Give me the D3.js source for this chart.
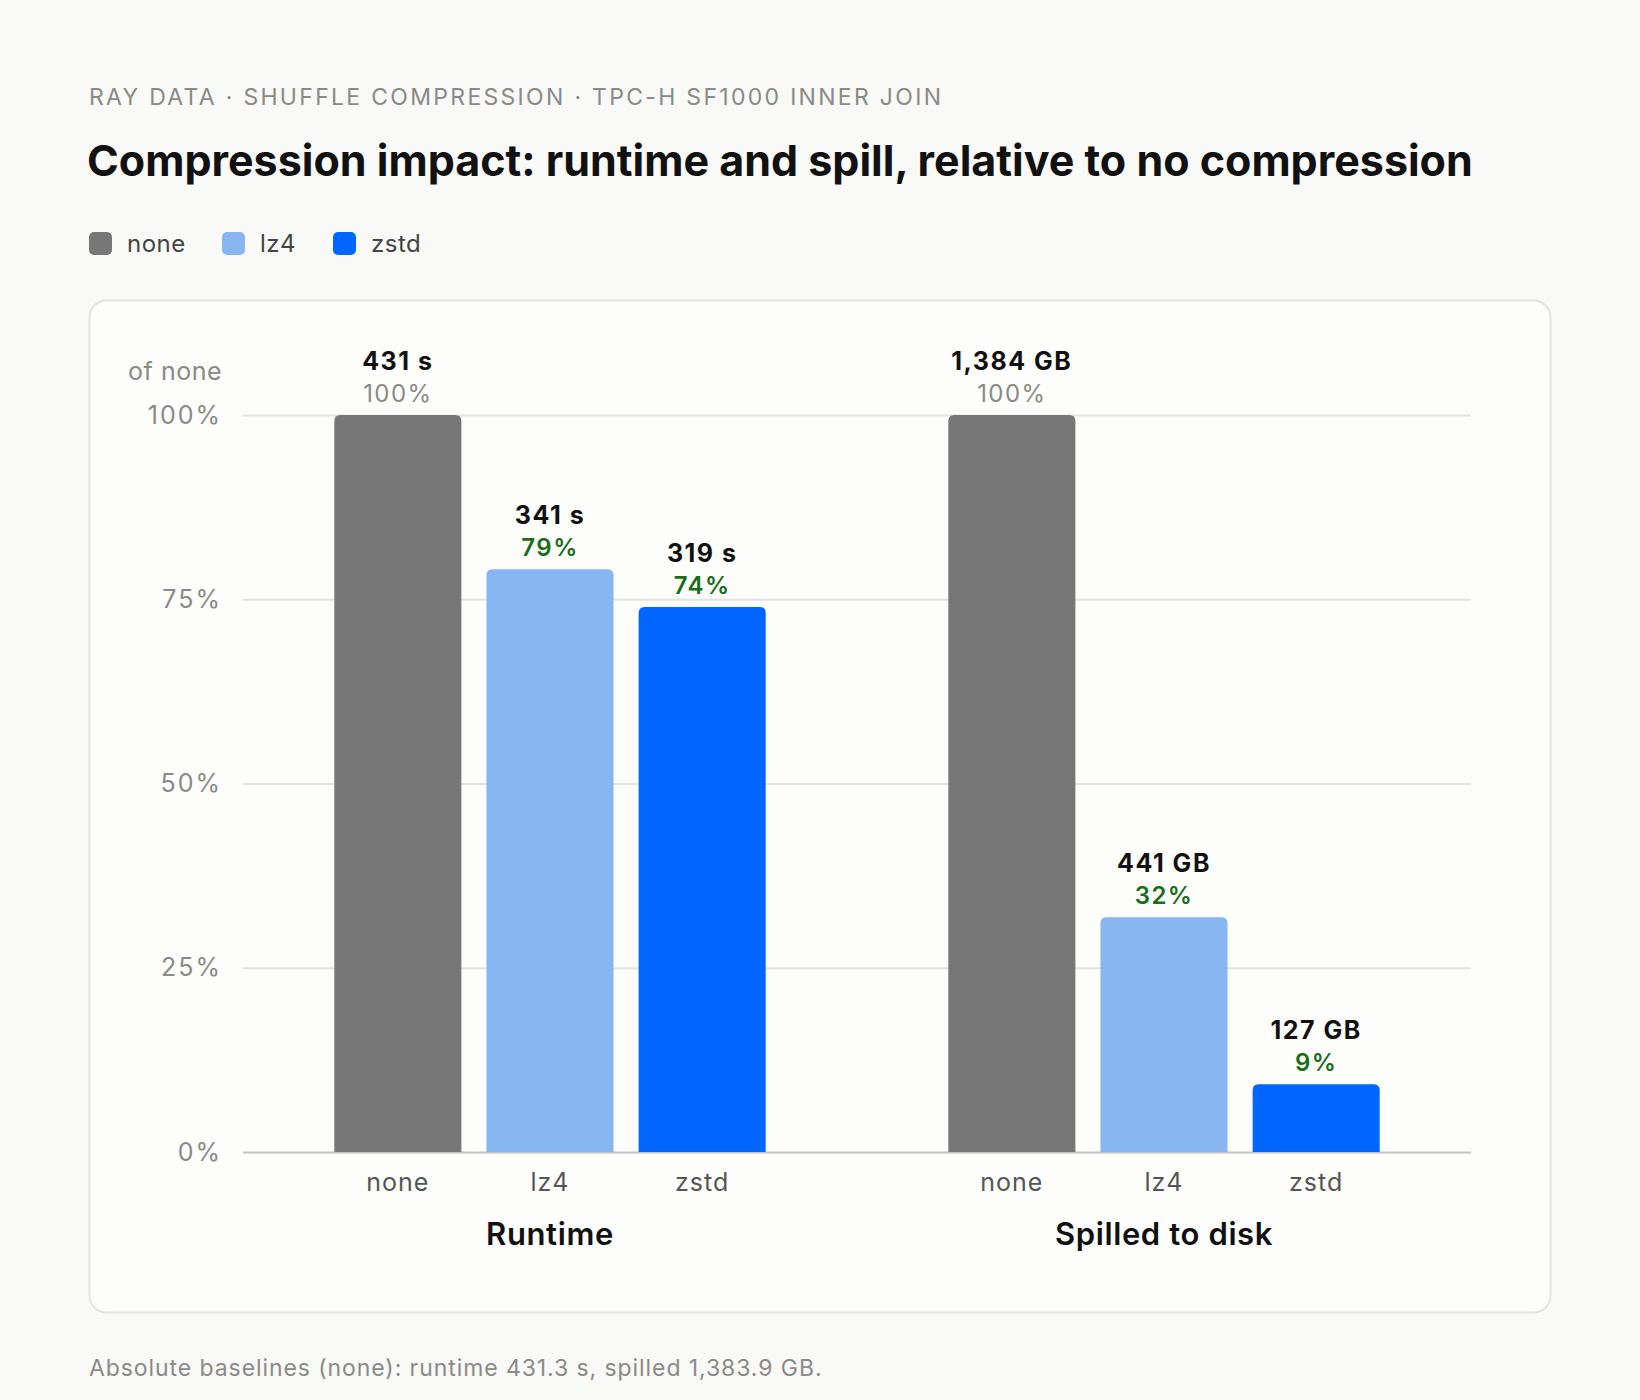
<!DOCTYPE html>
<html>
<head>
<meta charset="utf-8">
<script src="https://cdn.jsdelivr.net/npm/d3@7"></script>
<style>
  html, body { margin: 0; padding: 0; background: #f9f9f7; }
  svg { display: block; font-family: Inter, "Noto Sans", sans-serif; }
</style>
</head>
<body>
<svg id="chart" width="1640" height="1400"></svg>
<script>
// data
const metrics = ["Runtime", "Spilled to disk"];
const codecs = ["none", "lz4", "zstd"];
const runtimeSec = [431.3, 341, 319];
const spilledGB = [1383.9, 441, 127];
const valueLabels = [["431 s", "341 s", "319 s"], ["1,384 GB", "441 GB", "127 GB"]];
const yTicks = [0, 25, 50, 75, 100];

const colors = { none: "#777777", lz4: "#87b6f0", zstd: "#0066ff" };

// relative to "none" for each metric
const rows = [];
[runtimeSec, spilledGB].forEach((vals, mi) => {
    codecs.forEach((c, ci) => {
        rows.push({
            metric: metrics[mi],
            codec: c,
            pct: vals[ci] / vals[0] * 100,
            label: valueLabels[mi][ci]
        });
    });
});

const svg = d3.select("#chart");

svg.append("text")
    .attr("x", 89).attr("y", 105)
    .attr("fill", "#8a8a86")
    .attr("font-size", 23)
    .attr("letter-spacing", "0.1em")
    .text("RAY DATA · SHUFFLE COMPRESSION · TPC-H SF1000 INNER JOIN");

svg.append("text")
    .attr("x", 87).attr("y", 176)
    .attr("fill", "#111")
    .attr("font-size", 43)
    .attr("font-weight", 700)
    .text("Compression impact: runtime and spill, relative to no compression");

// legend
const legendX = [89, 222, 333];
const legend = svg.selectAll("g.legend").data(codecs).enter().append("g")
    .attr("class", "legend")
    .attr("transform", (d, i) => `translate(${legendX[i]},232)`);
legend.append("rect")
    .attr("width", 23).attr("height", 23).attr("rx", 5)
    .attr("fill", d => colors[d]);
legend.append("text")
    .attr("x", 38).attr("y", 20)
    .attr("font-size", 24)
    .attr("letter-spacing", "0.02em")
    .attr("fill", "#444")
    .text(d => d);

// card
svg.append("rect")
    .attr("x", 89.5).attr("y", 300.5)
    .attr("width", 1461).attr("height", 1012)
    .attr("rx", 17)
    .attr("fill", "#fdfdfc")
    .attr("stroke", "#e4e4e1")
    .attr("stroke-width", 2);

const plot = { left: 243, right: 1471, top: 415, bottom: 1152 };

const y = d3.scaleLinear().domain([0, 100]).range([plot.bottom, plot.top]);
const x0 = d3.scaleBand().domain(metrics).range([plot.left, plot.right]);
const x1 = d3.scaleBand().domain(codecs).range([0, x0.bandwidth()])
    .paddingInner(0.165).paddingOuter(0.6);

// gridlines + tick labels
const yAxis = d3.axisLeft(y).tickValues(yTicks)
    .tickSize(-(plot.right - plot.left))
    .tickPadding(21)
    .tickFormat(d => d + "%");
const gy = svg.append("g")
    .attr("transform", `translate(${plot.left},0)`)
    .call(yAxis);
gy.select(".domain").remove();
gy.selectAll(".tick line")
    .attr("stroke", d => d === 0 ? "#c4c4bc" : "#e4e4df")
    .attr("stroke-width", 2);
gy.selectAll(".tick text")
    .attr("font-size", 25)
    .attr("letter-spacing", "0.08em")
    .attr("fill", "#8a8a86")
    .attr("font-family", "Inter, 'Noto Sans', sans-serif");

svg.append("text")
    .attr("x", 222).attr("y", 380)
    .attr("text-anchor", "end")
    .attr("font-size", 25)
    .attr("letter-spacing", "0.02em")
    .attr("fill", "#8a8a86")
    .text("of none");

// bars with rounded top corners
const r = 6;
function barPath(d) {
    const bx = x0(d.metric) + x1(d.codec);
    const w = x1.bandwidth();
    const top = y(d.pct);
    const bot = y(0);
    return `M${bx},${bot}V${top + r}Q${bx},${top} ${bx + r},${top}` +
        `H${bx + w - r}Q${bx + w},${top} ${bx + w},${top + r}V${bot}Z`;
}

const barG = svg.append("g");
barG.selectAll("path").data(rows).enter().append("path")
    .attr("d", barPath)
    .attr("fill", d => colors[d.codec]);

// value labels
const cx = d => x0(d.metric) + x1(d.codec) + x1.bandwidth() / 2;
barG.selectAll("text.val").data(rows).enter().append("text")
    .attr("class", "val")
    .attr("x", cx)
    .attr("y", d => y(d.pct) - 45)
    .attr("text-anchor", "middle")
    .attr("font-size", 25)
    .attr("font-weight", 700)
    .attr("letter-spacing", "0.06em")
    .attr("fill", "#111")
    .text(d => d.label);

barG.selectAll("text.pct").data(rows).enter().append("text")
    .attr("class", "pct")
    .attr("x", cx)
    .attr("y", d => y(d.pct) - 13)
    .attr("text-anchor", "middle")
    .attr("font-size", 24)
    .attr("font-weight", d => d.codec === "none" ? 400 : 600)
    .attr("letter-spacing", "0.06em")
    .attr("fill", d => d.codec === "none" ? "#8a8a86" : "#1a6e1a")
    .text(d => Math.round(d.pct) + "%");

// codec labels under bars
barG.selectAll("text.cat").data(rows).enter().append("text")
    .attr("class", "cat")
    .attr("x", cx)
    .attr("y", plot.bottom + 39)
    .attr("text-anchor", "middle")
    .attr("font-size", 25)
    .attr("letter-spacing", "0.04em")
    .attr("fill", "#555")
    .text(d => d.codec);

// group labels
svg.selectAll("text.group").data(metrics).enter().append("text")
    .attr("class", "group")
    .attr("x", d => x0(d) + x0.bandwidth() / 2)
    .attr("y", plot.bottom + 93)
    .attr("text-anchor", "middle")
    .attr("font-size", 31)
    .attr("font-weight", 600)
    .attr("letter-spacing", "0.02em")
    .attr("fill", "#111")
    .text(d => d);

svg.append("text")
    .attr("x", 89).attr("y", 1376)
    .attr("font-size", 23)
    .attr("letter-spacing", "0.04em")
    .attr("fill", "#8a8a86")
    .text("Absolute baselines (none): runtime 431.3 s, spilled 1,383.9 GB.");
</script>
</body>
</html>
